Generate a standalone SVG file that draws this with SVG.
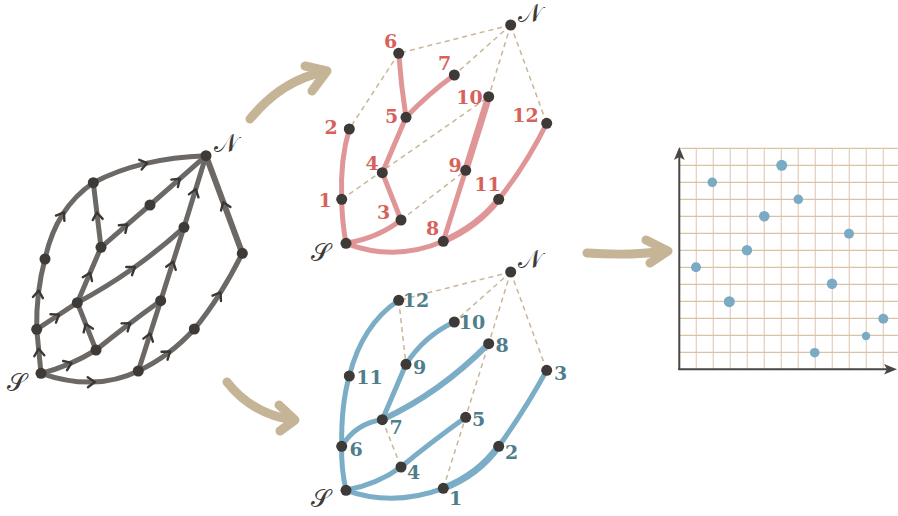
<svg xmlns="http://www.w3.org/2000/svg" width="898" height="516" viewBox="0 0 898 516">
<defs>
<marker id="chev" markerUnits="userSpaceOnUse" markerWidth="16" markerHeight="16" viewBox="-8 -8 16 16" refX="0" refY="0" orient="auto">
<path d="M-4.5,-5 L2.5,0 L-4.5,5" fill="none" stroke="#3a3734" stroke-width="2.4" stroke-linecap="round" stroke-linejoin="round"/>
</marker>
</defs>
<style>
.g{fill:none;stroke:#6c6865;stroke-width:5;stroke-linecap:round;marker-mid:url(#chev)}
.r{fill:none;stroke:#e09696;stroke-width:5;stroke-linecap:round}
.b{fill:none;stroke:#7badc7;stroke-width:5;stroke-linecap:round}
.d{fill:none;stroke:#c9b697;stroke-width:1.5;stroke-dasharray:5 4}
.big{fill:none;stroke:#c6b497;stroke-width:9;stroke-linecap:round;stroke-linejoin:round}
.n{fill:#3d3a37}
.lr{font-family:"DejaVu Serif",serif;font-weight:bold;font-size:19px;fill:#d6625c;text-anchor:middle}
.lb{font-family:"DejaVu Serif",serif;font-weight:bold;font-size:19px;fill:#4f7d8c;text-anchor:middle}
.sc{font-family:"DejaVu Serif","DejaVu Sans","Noto Sans",serif;font-size:25px;fill:#3d3a37;text-anchor:middle}
.gh{stroke:#d9c3a4;stroke-width:1.2}
.gv{stroke:#e2cebf;stroke-width:1.2}
.pt{fill:#7aaac4}
</style>
<rect width="898" height="516" fill="#ffffff"/>

<g id="arrows">
<path class="big" d="M250,119 Q282,80 324,72"/>
<path class="big" d="M305,66 L327,71 L312,91"/>
<path class="big" d="M227,382 Q252,414 293,420"/>
<path class="big" d="M279,405 L295,420 L280,431"/>
<path class="big" d="M587,253 Q630,256 667,251"/>
<path class="big" d="M646,240 L668,251 L650,263"/>
</g>

<g id="connectors">
<g id="left-edges">
<path class="g" d="M41,373.3 L38.85,351.3 L36.7,329.3"/>
<path class="g" d="M36.7,329.3 Q36.35,310.65 38.425,293.1 Q40.5,275.5 45,259"/>
<path class="g" d="M45,259 Q50.5,233.5 62.575,214.425 Q74.65,195.35 93.3,182.7"/>
<path class="g" d="M93.3,182.7 Q116.65,170.35 144.825,163.6 Q173,156.85 206,155.7"/>
<path class="g" d="M101,247.3 L97.15,215 L93.3,182.7"/>
<path class="g" d="M101,247.3 L125.5,226.15 L150,205"/>
<path class="g" d="M150,205 L178,180.35 L206,155.7"/>
<path class="g" d="M77.3,302.7 L89.15,275 L101,247.3"/>
<path class="g" d="M36.7,329.3 L57,316 L77.3,302.7"/>
<path class="g" d="M77.3,302.7 Q106.15,287.35 132.825,268.5 Q159.5,249.65 184,227.3"/>
<path class="g" d="M184,227.3 L195,191.5 L206,155.7"/>
<path class="g" d="M96,350 L86.65,326.35 L77.3,302.7"/>
<path class="g" d="M41,373.3 Q55.5,369.65 69.25,363.825 Q83,358 96,350"/>
<path class="g" d="M96,350 Q112,337 128.175,324.675 Q144.35,312.35 160.7,300.7"/>
<path class="g" d="M138.3,371 L149.5,335.85 L160.7,300.7"/>
<path class="g" d="M160.7,300.7 L172.35,264 L184,227.3"/>
<path class="g" d="M41,373.3 Q68,382.65 92.325,382.075 Q116.65,381.5 138.3,371"/>
<path class="g" d="M138.3,371 Q154.15,363.5 168.15,353 Q182.15,342.5 194.3,329"/>
<path class="g" d="M194.3,329 Q207.15,313.5 219.15,294.575 Q231.15,275.65 242.3,253.3"/>
<path class="g" d="M242.3,253.3 L224.15,204.5 L206,155.7" style="stroke-width:6"/>
</g>
<g id="red-edges">
<path class="d" d="M510.7,25 L398.7,53.3"/>
<path class="d" d="M510.7,25 L454.3,75"/>
<path class="d" d="M510.7,25 L488.7,96.7"/>
<path class="d" d="M510.7,25 L546.7,123.3"/>
<path class="d" d="M398.7,53.3 L349.3,129"/>
<path class="d" d="M341.7,199.3 L488.7,96.7"/>
<path class="d" d="M401,220 L465.7,170.3"/>
<path class="r" d="M346,243.3 Q342,222 341.7,199.3"/>
<path class="r" d="M341.7,199.3 Q340,160 349.3,129"/>
<path class="r" d="M398.7,53.3 Q401,85 406,117.3"/>
<path class="r" d="M406,117.3 Q428,94 454.3,75"/>
<path class="r" d="M406,117.3 L382.3,172.7"/>
<path class="r" d="M382.3,172.7 L401,220"/>
<path class="r" d="M401,220 Q378,238 346,243.3"/>
<path class="r" d="M488.7,96.7 L465.7,170.3" style="stroke-width:7"/>
<path class="r" d="M465.7,170.3 L443.3,241.3"/>
<path class="r" d="M346,243.3 Q395,262 443.3,241.3"/>
<path class="r" d="M443.3,241.3 Q478,226 498.7,199.3" style="stroke-width:6.5"/>
<path class="r" d="M498.7,199.3 Q526,165 546.7,123.3"/>
</g>
<g id="blue-edges">
<path class="d" d="M510.7,272 L398.7,300.3"/>
<path class="d" d="M510.7,272 L454.3,322"/>
<path class="d" d="M510.7,272 L488.7,343.7"/>
<path class="d" d="M510.7,272 L546.7,370.3"/>
<path class="d" d="M398.7,300.3 L406,364.3"/>
<path class="d" d="M382.3,419.7 L401,467"/>
<path class="d" d="M443.3,488.3 L488.7,343.7"/>
<path class="b" d="M346,490.3 Q341,468 341.7,446.3"/>
<path class="b" d="M341.7,446.3 Q341,405 349.3,376"/>
<path class="b" d="M349.3,376 Q362,325 398.7,300.3"/>
<path class="b" d="M341.7,446.3 Q356,423 382.3,419.7"/>
<path class="b" d="M382.3,419.7 L406,364.3"/>
<path class="b" d="M406,364.3 Q424,336 454.3,322"/>
<path class="b" d="M382.3,419.7 Q440,393 488.7,343.7" style="stroke-width:6"/>
<path class="b" d="M346,490.3 Q378,484 401,467"/>
<path class="b" d="M401,467 Q430,443 465.7,417.3"/>
<path class="b" d="M346,490.3 Q393,507 443.3,488.3"/>
<path class="b" d="M443.3,488.3 Q478,475 498.7,446.3" style="stroke-width:7"/>
<path class="b" d="M498.7,446.3 Q525,410 546.7,370.3"/>
</g>
</g>

<g id="left-graph">
<g id="L-S"><circle class="n" cx="41" cy="373.3" r="5.5"/><text class="sc" x="16" y="391">𝒮</text></g>
<g id="L-N"><circle class="n" cx="206" cy="155.7" r="5.5"/><text class="sc" x="226" y="152">𝒩</text></g>
<g id="L-J"><circle class="n" cx="36.7" cy="329.3" r="5.5"/></g>
<g id="L-F"><circle class="n" cx="45" cy="259" r="5.5"/></g>
<g id="L-A"><circle class="n" cx="93.3" cy="182.7" r="5.5"/></g>
<g id="L-E"><circle class="n" cx="101" cy="247.3" r="5.5"/></g>
<g id="L-B"><circle class="n" cx="150" cy="205" r="5.5"/></g>
<g id="L-C"><circle class="n" cx="184" cy="227.3" r="5.5"/></g>
<g id="L-D"><circle class="n" cx="242.3" cy="253.3" r="5.5"/></g>
<g id="L-G"><circle class="n" cx="77.3" cy="302.7" r="5.5"/></g>
<g id="L-H"><circle class="n" cx="160.7" cy="300.7" r="5.5"/></g>
<g id="L-I"><circle class="n" cx="194.3" cy="329" r="5.5"/></g>
<g id="L-K"><circle class="n" cx="96" cy="350" r="5.5"/></g>
<g id="L-L"><circle class="n" cx="138.3" cy="371" r="5.5"/></g>
</g>

<g id="red-graph">
<g id="R-N"><circle class="n" cx="510.7" cy="25" r="5.5"/><text class="sc" x="530" y="22">𝒩</text></g>
<g id="R-S"><circle class="n" cx="346" cy="243.3" r="5.5"/><text class="sc" x="320" y="261">𝒮</text></g>
<g id="R-6"><circle class="n" cx="398.7" cy="53.3" r="5.5"/><text class="lr" x="390.5" y="47.7">6</text></g>
<g id="R-7"><circle class="n" cx="454.3" cy="75" r="5.5"/><text class="lr" x="444.5" y="70">7</text></g>
<g id="R-10"><circle class="n" cx="488.7" cy="96.7" r="5.5"/><text class="lr" x="469.5" y="103.7">10</text></g>
<g id="R-5"><circle class="n" cx="406" cy="117.3" r="5.5"/><text class="lr" x="391.5" y="123">5</text></g>
<g id="R-12"><circle class="n" cx="546.7" cy="123.3" r="5.5"/><text class="lr" x="525.5" y="122">12</text></g>
<g id="R-2"><circle class="n" cx="349.3" cy="129" r="5.5"/><text class="lr" x="331" y="134">2</text></g>
<g id="R-4"><circle class="n" cx="382.3" cy="172.7" r="5.5"/><text class="lr" x="372" y="169.7">4</text></g>
<g id="R-9"><circle class="n" cx="465.7" cy="170.3" r="5.5"/><text class="lr" x="455" y="172">9</text></g>
<g id="R-1"><circle class="n" cx="341.7" cy="199.3" r="5.5"/><text class="lr" x="325" y="207">1</text></g>
<g id="R-11"><circle class="n" cx="498.7" cy="199.3" r="5.5"/><text class="lr" x="487.5" y="191">11</text></g>
<g id="R-3"><circle class="n" cx="401" cy="220" r="5.5"/><text class="lr" x="383.5" y="218.7">3</text></g>
<g id="R-8"><circle class="n" cx="443.3" cy="241.3" r="5.5"/><text class="lr" x="432.5" y="235">8</text></g>
</g>

<g id="blue-graph">
<g id="B-N"><circle class="n" cx="510.7" cy="272" r="5.5"/><text class="sc" x="530" y="268">𝒩</text></g>
<g id="B-S"><circle class="n" cx="346" cy="490.3" r="5.5"/><text class="sc" x="320" y="507">𝒮</text></g>
<g id="B-12"><circle class="n" cx="398.7" cy="300.3" r="5.5"/><text class="lb" x="416" y="307">12</text></g>
<g id="B-10"><circle class="n" cx="454.3" cy="322" r="5.5"/><text class="lb" x="472" y="328.7">10</text></g>
<g id="B-8"><circle class="n" cx="488.7" cy="343.7" r="5.5"/><text class="lb" x="502" y="352">8</text></g>
<g id="B-9"><circle class="n" cx="406" cy="364.3" r="5.5"/><text class="lb" x="419.5" y="373.7">9</text></g>
<g id="B-3"><circle class="n" cx="546.7" cy="370.3" r="5.5"/><text class="lb" x="560.5" y="380">3</text></g>
<g id="B-11"><circle class="n" cx="349.3" cy="376" r="5.5"/><text class="lb" x="369.5" y="384">11</text></g>
<g id="B-7"><circle class="n" cx="382.3" cy="419.7" r="5.5"/><text class="lb" x="396" y="434">7</text></g>
<g id="B-5"><circle class="n" cx="465.7" cy="417.3" r="5.5"/><text class="lb" x="478.5" y="426">5</text></g>
<g id="B-6"><circle class="n" cx="341.7" cy="446.3" r="5.5"/><text class="lb" x="356" y="456">6</text></g>
<g id="B-2"><circle class="n" cx="498.7" cy="446.3" r="5.5"/><text class="lb" x="511.5" y="459">2</text></g>
<g id="B-4"><circle class="n" cx="401" cy="467" r="5.5"/><text class="lb" x="413.5" y="479">4</text></g>
<g id="B-1"><circle class="n" cx="443.3" cy="488.3" r="5.5"/><text class="lb" x="455.5" y="505">1</text></g>
</g>

<g id="plot">
<g id="grid">
<line class="gv" x1="696.3" y1="148.3" x2="696.3" y2="369.3"/>
<line class="gv" x1="713.3" y1="148.3" x2="713.3" y2="369.3"/>
<line class="gv" x1="730.3" y1="148.3" x2="730.3" y2="369.3"/>
<line class="gv" x1="747.3" y1="148.3" x2="747.3" y2="369.3"/>
<line class="gv" x1="764.3" y1="148.3" x2="764.3" y2="369.3"/>
<line class="gv" x1="781.3" y1="148.3" x2="781.3" y2="369.3"/>
<line class="gv" x1="798.3" y1="148.3" x2="798.3" y2="369.3"/>
<line class="gv" x1="815.3" y1="148.3" x2="815.3" y2="369.3"/>
<line class="gv" x1="832.3" y1="148.3" x2="832.3" y2="369.3"/>
<line class="gv" x1="849.3" y1="148.3" x2="849.3" y2="369.3"/>
<line class="gv" x1="866.3" y1="148.3" x2="866.3" y2="369.3"/>
<line class="gv" x1="883.3" y1="148.3" x2="883.3" y2="369.3"/>
<line class="gh" x1="679.3" y1="352.3" x2="898" y2="352.3"/>
<line class="gh" x1="679.3" y1="335.3" x2="898" y2="335.3"/>
<line class="gh" x1="679.3" y1="318.3" x2="898" y2="318.3"/>
<line class="gh" x1="679.3" y1="301.3" x2="898" y2="301.3"/>
<line class="gh" x1="679.3" y1="284.3" x2="898" y2="284.3"/>
<line class="gh" x1="679.3" y1="267.3" x2="898" y2="267.3"/>
<line class="gh" x1="679.3" y1="250.3" x2="898" y2="250.3"/>
<line class="gh" x1="679.3" y1="233.3" x2="898" y2="233.3"/>
<line class="gh" x1="679.3" y1="216.3" x2="898" y2="216.3"/>
<line class="gh" x1="679.3" y1="199.3" x2="898" y2="199.3"/>
<line class="gh" x1="679.3" y1="182.3" x2="898" y2="182.3"/>
<line class="gh" x1="679.3" y1="165.3" x2="898" y2="165.3"/>
<line class="gh" x1="679.3" y1="148.3" x2="898" y2="148.3"/>
</g>
<g id="axes">
<line x1="679.3" y1="370" x2="679.3" y2="156" stroke="#4a4643" stroke-width="2"/>
<line x1="678.3" y1="369.3" x2="889" y2="369.3" stroke="#4a4643" stroke-width="2"/>
<polygon points="679.3,147 684.6,160 679.3,157 674,160" fill="#4a4643"/>
<polygon points="897,369.3 884,374.6 887,369.3 884,364" fill="#4a4643"/>
</g>
<g id="points">
<circle class="pt" cx="696" cy="267.3" r="5"/>
<circle class="pt" cx="712.3" cy="182.3" r="4.8"/>
<circle class="pt" cx="729.3" cy="301.7" r="5.5"/>
<circle class="pt" cx="747" cy="250.3" r="5.2"/>
<circle class="pt" cx="764.3" cy="216.3" r="5.3"/>
<circle class="pt" cx="781.7" cy="165.3" r="5.5"/>
<circle class="pt" cx="798.3" cy="199.3" r="4.8"/>
<circle class="pt" cx="814.7" cy="352.7" r="4.8"/>
<circle class="pt" cx="832" cy="283.7" r="5.2"/>
<circle class="pt" cx="849" cy="233.7" r="5"/>
<circle class="pt" cx="866" cy="336" r="4.2"/>
<circle class="pt" cx="883.3" cy="318.7" r="5"/>
</g>
</g>
</svg>
